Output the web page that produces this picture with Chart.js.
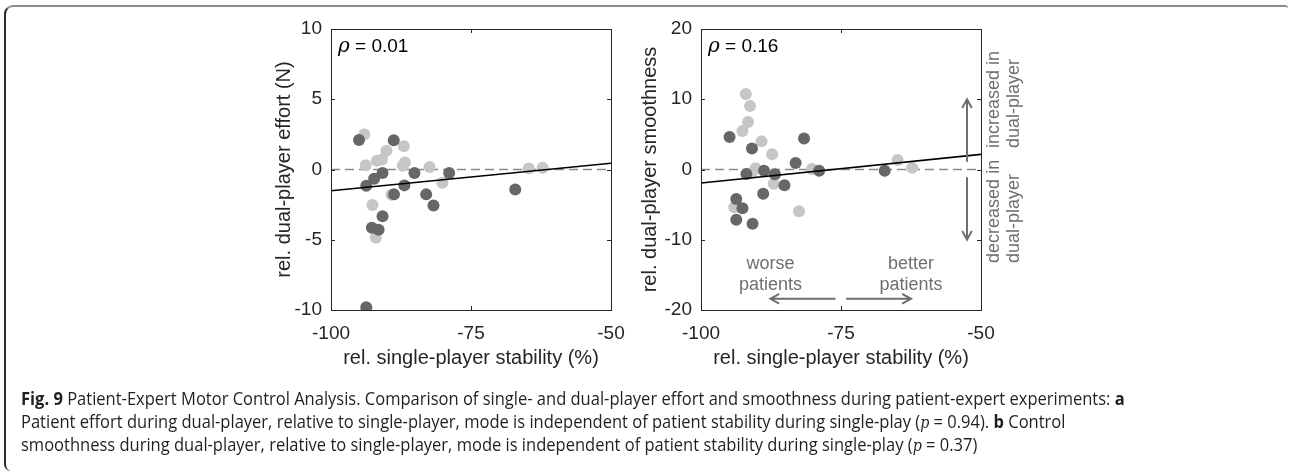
<!DOCTYPE html>
<html>
<head>
<meta charset="utf-8">
<script src="https://cdn.jsdelivr.net/npm/chart.js@4.4.1/dist/chart.umd.min.js"></script>
<style>
    html, body { margin: 0; padding: 0; background: #fff; }
    body { width: 1290px; height: 476px; position: relative; overflow: hidden; }
    .frame {
        position: absolute; left: 4px; top: 5px; width: 1284px; height: 466px;
        border-top: 2px solid #8c8c8c; border-left: 2px solid #2a2a2a;
        border-radius: 9px 3px 0 7px; box-sizing: border-box;
    }
    .panel { position: absolute; top: 0; height: 390px; }
    #panelA { left: 250px; width: 380px; }
    #panelB { left: 620px; width: 420px; }
    .caption {
        position: absolute; left: 21px; white-space: nowrap;
        font-family: 'Open Sans', sans-serif; font-size: 18.5px; line-height: 23px;
        color: #231f20; transform-origin: 0 0;
    }
    .caption i { font-family: 'DejaVu Serif', serif; font-size: 16px; }
</style>
</head>
<body>
<div class="frame"></div>
<div class="panel" id="panelA"><canvas id="effortChart"></canvas></div>
<div class="panel" id="panelB"><canvas id="smoothChart"></canvas></div>

<div class="caption" id="cap1" style="top:386px"><b>Fig. 9</b> Patient-Expert Motor Control Analysis. Comparison of single- and dual-player effort and smoothness during patient-expert experiments: <b>a</b></div>
<div class="caption" id="cap2" style="top:409px">Patient effort during dual-player, relative to single-player, mode is independent of patient stability during single-play (<i>p</i> = 0.94). <b>b</b> Control</div>
<div class="caption" id="cap3" style="top:432px">smoothness during dual-player, relative to single-player, mode is independent of patient stability during single-play (<i>p</i> = 0.37)</div>

<script>
(function () {
    'use strict';

    // ── Data ─────────────────────────────────────────────────────
    const X_TICKS = [-100, -75, -50];

    // a: effort
    const effortDarkX  = [-95.0, -93.7, -92.3, -90.8, -88.8, -88.75, -86.9, -85.1, -83.0, -81.7, -78.9, -67.1, -90.8, -92.7, -91.5, -93.7];
    const effortDarkY  = [  2.1, -1.15, -0.65, -0.25,  2.08, -1.77, -1.13, -0.25, -1.77, -2.57, -0.25, -1.43, -3.33, -4.14, -4.28, -9.81];
    const effortLightX = [-94.05, -93.8, -90.1, -91.8, -90.9, -87.0, -86.8, -87.2, -82.4, -80.1, -89.2, -92.6, -92.0, -64.7, -62.2];
    const effortLightY = [  2.5,   0.3,  1.34,  0.63,  0.72,  1.65,  0.49,  0.27,  0.18, -0.94, -1.8, -2.53, -4.85,  0.08,  0.13];
    const effortFitX   = [-100, -50];
    const effortFitY   = [-1.51, 0.44];
    const effortTicksY = [-10, -5, 0, 5, 10];
    const effortRho    = '0.01';

    // b: smoothness
    const smoothDarkX  = [-94.9, -90.9, -81.6, -83.1, -88.75, -91.9, -86.8, -85.1, -88.9, -78.9, -67.2, -93.7, -92.6, -93.7, -90.8];
    const smoothDarkY  = [ 4.63,  3.0,   4.4,  0.93, -0.17, -0.64, -0.68, -2.25, -3.44, -0.17, -0.17, -4.2, -5.53, -7.14, -7.71];
    const smoothLightX = [-92.0, -91.25, -91.6, -92.6, -89.2, -87.3, -90.25, -91.0, -87.0, -80.2, -82.5, -94.05, -64.9, -62.3];
    const smoothLightY = [10.75,  9.04,  6.76,  5.48,  4.01,  2.16,  0.17, -0.54, -2.02,  0.07, -5.95, -5.38,  1.35,  0.26];
    const smoothFitX   = [-100, -50];
    const smoothFitY   = [-1.92, 2.16];
    const smoothTicksY = [-20, -10, 0, 10, 20];
    const smoothRho    = '0.16';

    // ── Shared styling ───────────────────────────────────────────
    const AXIS_FONT  = "'Liberation Sans', Arial, sans-serif";
    const AXIS_COLOR = '#262626';
    const DARK       = '#676767';
    const LIGHT      = '#c6c6c6';
    const NOTE_COLOR = '#6f6f6f';

    const pts = (xs, ys) => xs.map((x, i) => ({ x, y: ys[i] }));

    function arrow(ctx, x1, y1, x2, y2) {
        const a = Math.atan2(y2 - y1, x2 - x1), L = 10, W = 0.5;
        ctx.beginPath();
        ctx.moveTo(x1, y1); ctx.lineTo(x2, y2);
        ctx.moveTo(x2 - L * Math.cos(a - W), y2 - L * Math.sin(a - W));
        ctx.lineTo(x2, y2);
        ctx.lineTo(x2 - L * Math.cos(a + W), y2 - L * Math.sin(a + W));
        ctx.stroke();
    }

    // MATLAB-like box with inward ticks, rho label and optional notes
    const boxPlugin = {
        id: 'matlabBox',
        afterDraw(chart, args, opts) {
            const { ctx, chartArea: ca, scales } = chart;
            const xs = scales.x, ys = scales.y;
            ctx.save();
            ctx.strokeStyle = AXIS_COLOR;
            ctx.lineWidth = 1;
            ctx.strokeRect(ca.left + 0.5, ca.top + 0.5, ca.right - ca.left, ca.bottom - ca.top);
            const tl = 4;
            ctx.beginPath();
            xs.ticks.forEach(t => {
                const px = Math.round(xs.getPixelForValue(t.value)) + 0.5;
                ctx.moveTo(px, ca.bottom); ctx.lineTo(px, ca.bottom - tl);
                ctx.moveTo(px, ca.top);    ctx.lineTo(px, ca.top + tl);
            });
            ys.ticks.forEach(t => {
                const py = Math.round(ys.getPixelForValue(t.value)) + 0.5;
                ctx.moveTo(ca.left, py);  ctx.lineTo(ca.left + tl, py);
                ctx.moveTo(ca.right, py); ctx.lineTo(ca.right - tl, py);
            });
            ctx.stroke();

            // rho label
            ctx.fillStyle = '#000';
            ctx.textBaseline = 'middle';
            ctx.textAlign = 'left';
            ctx.font = "italic 20px 'DejaVu Serif', serif";
            const rx = ca.left + 7, ry = ca.top + 18;
            ctx.fillText('\u03c1', rx, ry);
            const rw = ctx.measureText('\u03c1').width;
            ctx.font = '19px ' + AXIS_FONT;
            ctx.fillText(' = ' + opts.rho, rx + rw, ry);

            if (opts.notes) {
                ctx.strokeStyle = NOTE_COLOR;
                ctx.fillStyle = NOTE_COLOR;
                ctx.lineWidth = 2;
                const X = v => xs.getPixelForValue(v), Y = v => ys.getPixelForValue(v);
                // vertical arrows
                arrow(ctx, X(-52.5), Y(1.1), X(-52.5), Y(10));
                arrow(ctx, X(-52.5), Y(-1.1), X(-52.5), Y(-10));
                // horizontal arrows
                arrow(ctx, X(-76), Y(-18.4), X(-87.6), Y(-18.4));
                arrow(ctx, X(-74.1), Y(-18.4), X(-62.5), Y(-18.4));

                ctx.font = '18px ' + AXIS_FONT;
                ctx.textAlign = 'center';
                ctx.fillText('worse', X(-87.6), Y(-13.45));
                ctx.fillText('patients', X(-87.6), Y(-16.45));
                ctx.fillText('better', X(-62.5), Y(-13.45));
                ctx.fillText('patients', X(-62.5), Y(-16.45));

                ctx.textAlign = 'left';
                [[Y(3.05), 'increased in'], [Y(-13.3), 'decreased in']].forEach(([y0, first]) => {
                    ctx.save();
                    ctx.translate(ca.right + 13, y0);
                    ctx.rotate(-Math.PI / 2);
                    ctx.fillText(first, 0, 0);
                    ctx.fillText('dual-player', 0, 20);
                    ctx.restore();
                });
            }
            ctx.restore();
        }
    };

    function buildPanel(canvasId, cfg) {
        const ctx = document.getElementById(canvasId);
        const w = ctx.parentNode.clientWidth;
        new Chart(ctx, {
            type: 'scatter',
            data: {
                datasets: [
                    {
                        type: 'line',
                        data: pts(cfg.fitX, cfg.fitY),
                        borderColor: '#000', borderWidth: 1.6,
                        pointRadius: 0, order: 0
                    },
                    {
                        data: pts(cfg.darkX, cfg.darkY),
                        backgroundColor: DARK, borderWidth: 0,
                        pointRadius: 6, order: 1
                    },
                    {
                        data: pts(cfg.lightX, cfg.lightY),
                        backgroundColor: LIGHT, borderWidth: 0,
                        pointRadius: 6, order: 2
                    },
                    {
                        type: 'line',
                        data: pts(cfg.fitX, [0, 0]),
                        borderColor: '#8a8a8a', borderWidth: 1.5,
                        borderDash: [9, 5],
                        pointRadius: 0, order: 3
                    }
                ]
            },
            options: {
                responsive: true,
                maintainAspectRatio: false,
                animation: false,
                events: [],
                layout: { padding: { left: 0, top: 29, right: w - 361, bottom: 10 } },
                plugins: {
                    legend: { display: false },
                    tooltip: { enabled: false },
                    matlabBox: { rho: cfg.rho, notes: cfg.notes }
                },
                scales: {
                    x: {
                        type: 'linear',
                        min: -100, max: -50,
                        afterBuildTicks: s => { s.ticks = X_TICKS.map(v => ({ value: v })); },
                        afterFit: s => { s.height = 70; s.paddingLeft = 0; s.paddingRight = 0; },
                        grid: { display: false, drawTicks: false },
                        border: { display: false },
                        ticks: { color: AXIS_COLOR, padding: 12, font: { family: AXIS_FONT, size: 19 } },
                        title: {
                            display: true,
                            text: 'rel. single-player stability (%)',
                            color: AXIS_COLOR,
                            font: { family: AXIS_FONT, size: 20 },
                            padding: { top: 0, bottom: 10 }
                        }
                    },
                    y: {
                        type: 'linear',
                        min: cfg.ticksY[0], max: cfg.ticksY[cfg.ticksY.length - 1],
                        afterBuildTicks: s => { s.ticks = cfg.ticksY.map(v => ({ value: v })); },
                        afterFit: s => { s.width = 81; },
                        grid: { display: false, drawTicks: false },
                        border: { display: false },
                        ticks: { color: AXIS_COLOR, padding: 9, font: { family: AXIS_FONT, size: 19 } },
                        title: {
                            display: true,
                            text: cfg.yTitle,
                            color: AXIS_COLOR,
                            font: { family: AXIS_FONT, size: 20 },
                            padding: { top: cfg.yTitlePad, bottom: 0 }
                        }
                    }
                }
            },
            plugins: [boxPlugin]
        });
    }

    // ── a. Effort ────────────────────────────────────────────────
    buildPanel('effortChart', {
        darkX: effortDarkX, darkY: effortDarkY,
        lightX: effortLightX, lightY: effortLightY,
        fitX: effortFitX, fitY: effortFitY,
        ticksY: effortTicksY, rho: effortRho,
        yTitle: 'rel. dual-player effort (N)', yTitlePad: 22,
        notes: false
    });

    // ── b. Smoothness ────────────────────────────────────────────
    buildPanel('smoothChart', {
        darkX: smoothDarkX, darkY: smoothDarkY,
        lightX: smoothLightX, lightY: smoothLightY,
        fitX: smoothFitX, fitY: smoothFitY,
        ticksY: smoothTicksY, rho: smoothRho,
        yTitle: 'rel. dual-player smoothness', yTitlePad: 18,
        notes: true
    });

    // ── Caption: squeeze lines to the original width ─────────────
    const cap1 = document.getElementById('cap1');
    const k = 1104 / cap1.scrollWidth;
    ['cap1', 'cap2', 'cap3'].forEach(id => {
        document.getElementById(id).style.transform = 'scaleX(' + k + ')';
    });
})();
</script>
</body>
</html>
